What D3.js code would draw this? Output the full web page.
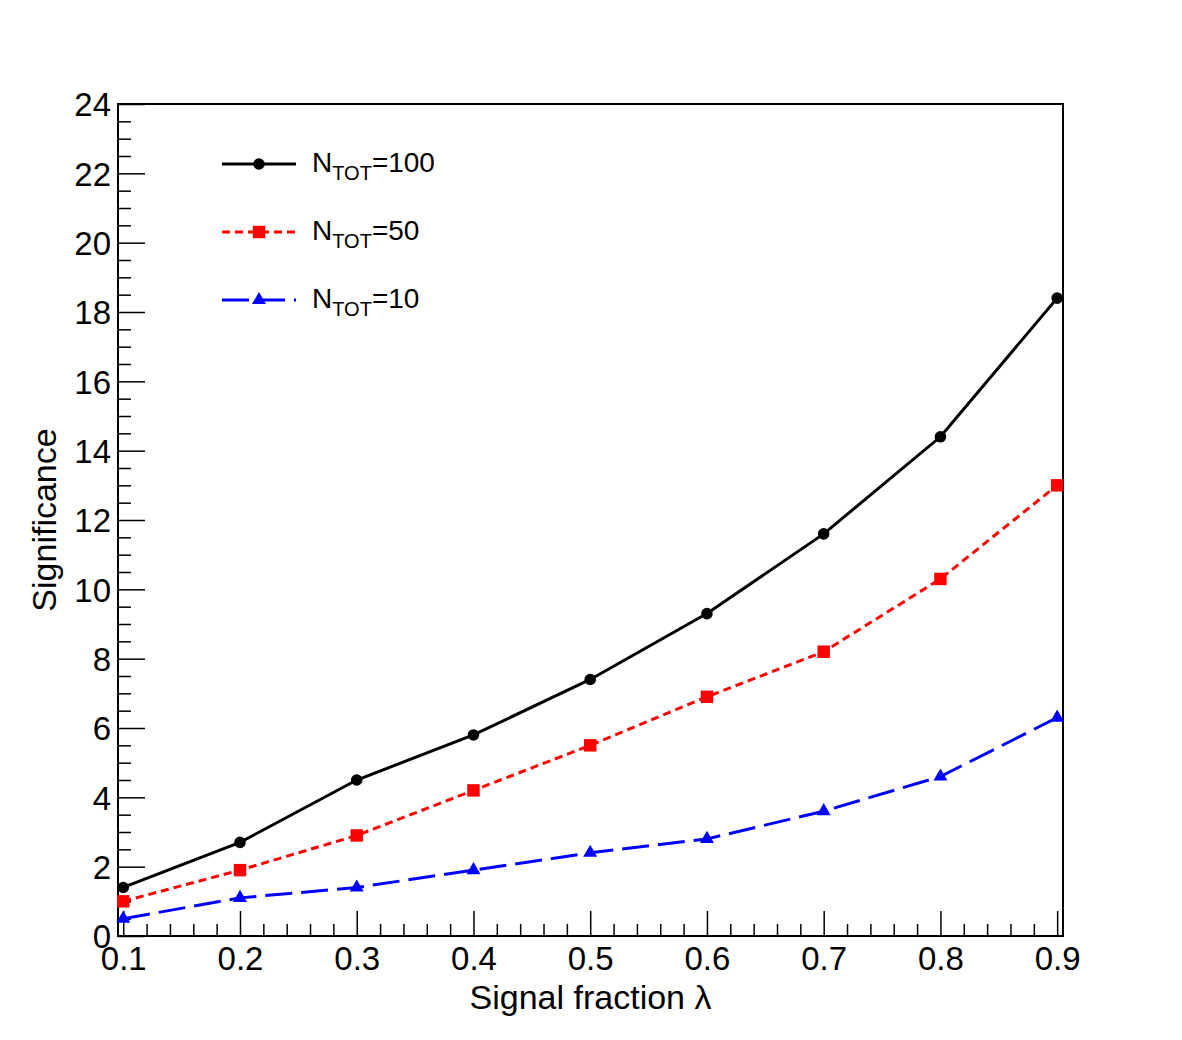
<!DOCTYPE html>
<html>
<head>
<meta charset="utf-8">
<script src="https://cdn.jsdelivr.net/npm/d3@7"></script>
<style>
  body { margin: 0; background: #fff; }
  text { font-family: "Liberation Sans", Arial, sans-serif; fill: #000; }
</style>
</head>
<body>
<svg width="1182" height="1040"></svg>
<script>
const lambdas = [0.1, 0.2, 0.3, 0.4, 0.5, 0.6, 0.7, 0.8, 0.9];
const sig100 = [1.4, 2.7, 4.5, 5.8, 7.4, 9.3, 11.6, 14.4, 18.4];
const sig50 = [1.0, 1.9, 2.9, 4.2, 5.5, 6.9, 8.2, 10.3, 13.0];
const sig10 = [0.5, 1.1, 1.4, 1.9, 2.4, 2.8, 3.6, 4.6, 6.3];
const seriesNames = ['100', '50', '10'];
const xTicks = [0.1, 0.2, 0.3, 0.4, 0.5, 0.6, 0.7, 0.8, 0.9];
const yTicks = [0, 2, 4, 6, 8, 10, 12, 14, 16, 18, 20, 22, 24];

function Start(){
    const svg = d3.select('svg');
    const left = 118, right = 1063, top = 104, bottom = 936;

    const x = d3.scaleLinear().domain([0.0955, 0.905]).range([left, right]);
    const y = d3.scaleLinear().domain([0, 24]).range([bottom, top]);

    svg.append('rect')
        .attr('width', 1182).attr('height', 1040).attr('fill', 'white');

    // minor ticks
    const xMinor = d3.range(0.1, 0.9001, 0.02).filter(v => Math.abs(v*10 - Math.round(v*10)) > 1e-6);
    const yMinor = d3.range(0, 24.001, 0.5).filter(v => v % 2 !== 0);

    svg.append('g')
        .attr('transform', `translate(0,${bottom})`)
        .call(d3.axisBottom(x).tickValues(xMinor).tickSize(-12).tickFormat(''))
        .call(g => g.select('.domain').remove())
        .selectAll('line').attr('stroke', 'black').attr('stroke-width', 1.5);

    svg.append('g')
        .attr('transform', `translate(${left},0)`)
        .call(d3.axisLeft(y).tickValues(yMinor).tickSize(-13).tickFormat(''))
        .call(g => g.select('.domain').remove())
        .selectAll('line').attr('stroke', 'black').attr('stroke-width', 1.5);

    // major ticks + labels
    const xAxis = svg.append('g')
        .attr('transform', `translate(0,${bottom})`)
        .call(d3.axisBottom(x).tickValues(xTicks).tickSize(-25).tickPadding(0).tickFormat(d3.format('.1f')));
    xAxis.select('.domain').remove();
    xAxis.selectAll('line').attr('stroke', 'black').attr('stroke-width', 1.5);
    xAxis.selectAll('text')
        .attr('y', 34).attr('dy', null)
        .style('font-size', '33px')
        .style('font-family', '"Liberation Sans", Arial, sans-serif')
        .attr('fill', 'black');

    const yAxis = svg.append('g')
        .attr('transform', `translate(${left},0)`)
        .call(d3.axisLeft(y).tickValues(yTicks).tickSize(-27).tickPadding(0).tickFormat(d3.format('d')));
    yAxis.select('.domain').remove();
    yAxis.selectAll('line').attr('stroke', 'black').attr('stroke-width', 1.5);
    yAxis.selectAll('text')
        .attr('x', -7).attr('dy', '0.36em')
        .style('font-size', '33px')
        .style('font-family', '"Liberation Sans", Arial, sans-serif')
        .attr('fill', 'black');

    // frame
    svg.append('rect')
        .attr('x', left).attr('y', top)
        .attr('width', right - left).attr('height', bottom - top)
        .attr('fill', 'none').attr('stroke', 'black').attr('stroke-width', 2);

    // axis titles
    svg.append('text')
        .attr('x', (left + right)/2).attr('y', 1009)
        .attr('text-anchor', 'middle')
        .style('font-size', '34px')
        .text('Signal fraction λ');

    svg.append('text')
        .attr('transform', `translate(56,${(top + bottom)/2}) rotate(-90)`)
        .attr('text-anchor', 'middle')
        .style('font-size', '34px')
        .text('Significance');

    const series = [
        {name: seriesNames[0], values: sig100, color: 'black', dash: null, symbol: d3.symbolCircle, size: 105},
        {name: seriesNames[1], values: sig50, color: '#ff0000', dash: '8,5', symbol: d3.symbolSquare, size: 155},
        {name: seriesNames[2], values: sig10, color: '#0000ff', dash: '27,9', symbol: d3.symbolTriangle, size: 85}
    ];

    const line = d3.line()
        .x((d, i) => x(lambdas[i]))
        .y(d => y(d));

    series.forEach(s => {
        svg.append('path')
            .attr('d', line(s.values))
            .attr('fill', 'none')
            .attr('stroke', s.color)
            .attr('stroke-width', 3)
            .attr('stroke-dasharray', s.dash);
        svg.selectAll(null)
            .data(s.values)
            .enter().append('path')
            .attr('d', d3.symbol().type(s.symbol).size(s.size))
            .attr('transform', (d, i) => `translate(${x(lambdas[i])},${y(d)})`)
            .attr('fill', s.color);
    });

    // legend
    const legendRows = [164, 232, 300];
    series.forEach((s, i) => {
        const ly = legendRows[i];
        svg.append('line')
            .attr('x1', 222).attr('x2', 296)
            .attr('y1', ly).attr('y2', ly)
            .attr('stroke', s.color)
            .attr('stroke-width', 3)
            .attr('stroke-dasharray', s.dash);
        svg.append('path')
            .attr('d', d3.symbol().type(s.symbol).size(s.size))
            .attr('transform', `translate(259,${ly})`)
            .attr('fill', s.color);
        const t = svg.append('text')
            .attr('x', 312).attr('y', ly + 8)
            .style('font-size', '28px');
        t.append('tspan').text('N');
        t.append('tspan').attr('dy', 8).style('font-size', '20px').text('TOT');
        t.append('tspan').attr('dy', -8).text('=' + s.name);
    });
}
Start();
</script>
</body>
</html>
